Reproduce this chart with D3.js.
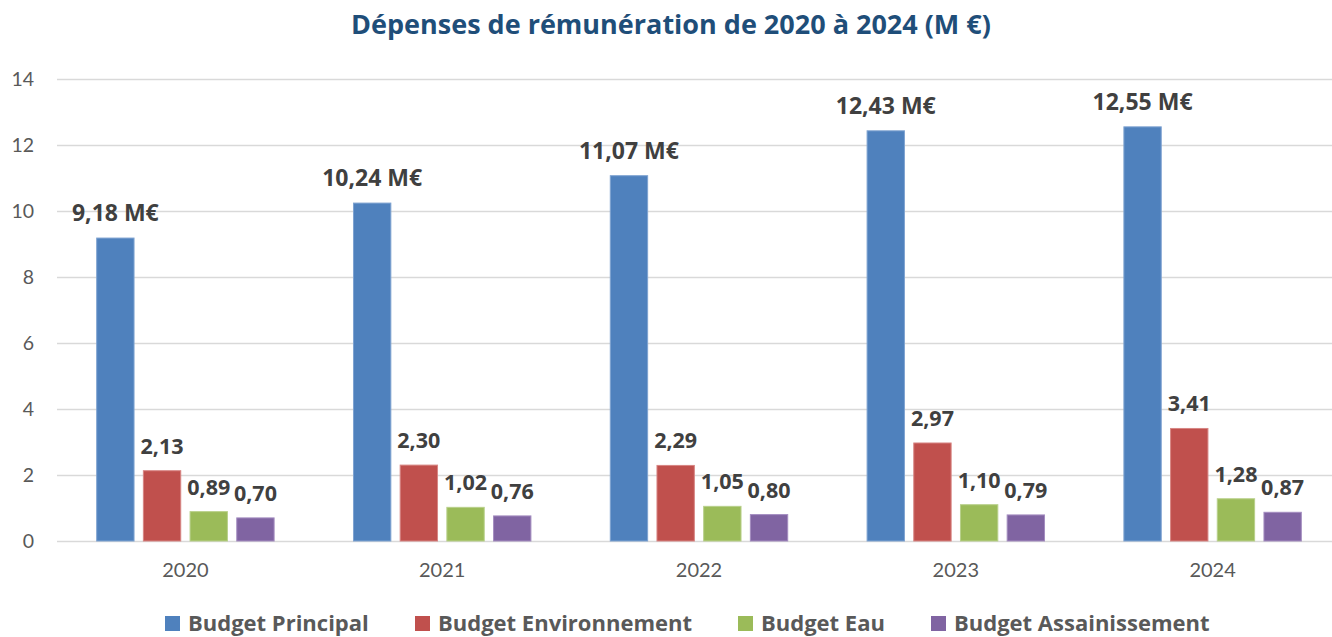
<!DOCTYPE html>
<html>
<head>
<meta charset="utf-8">
<script src="https://cdn.jsdelivr.net/npm/d3@7"></script>
<style>
  html, body { margin: 0; padding: 0; background: #fff; overflow: hidden; }
  svg { display: block; font-family: "Open Sans", Lato, sans-serif; }
</style>
</head>
<body>
<svg id="chart" width="1332" height="637"></svg>
<script>
// Rémunération par budget (M €), 2020–2024
const years = ["2020", "2021", "2022", "2023", "2024"];
const seriesNames = ["Budget Principal", "Budget Environnement", "Budget Eau", "Budget Assainissement"];
const budgetPrincipal = [9.18, 10.24, 11.07, 12.43, 12.55];
const budgetEnvironnement = [2.13, 2.30, 2.29, 2.97, 3.41];
const budgetEau = [0.89, 1.02, 1.05, 1.10, 1.28];
const budgetAssainissement = [0.70, 0.76, 0.80, 0.79, 0.87];
const yTicks = [0, 2, 4, 6, 8, 10, 12, 14];
const titleText = "Dépenses de rémunération de 2020 à 2024 (M €)";

const seriesValues = [budgetPrincipal, budgetEnvironnement, budgetEau, budgetAssainissement];
const colors = ["#4F81BD", "#C0504D", "#9BBB59", "#8064A2"];
const strokes = ["#7FA3D1", "#D78583", "#B8D08A", "#A48DC0"];

const svg = d3.select("#chart");
const W = 1332;
const plot = { left: 57, right: 1341, top: 79, bottom: 541 };

const fmt = v => v.toFixed(2).replace(".", ",");

const x0 = d3.scaleBand().domain(years).range([plot.left, plot.right]).padding(0);
const x1 = d3.scaleBand().domain(seriesNames).range([0, x0.bandwidth()])
  .paddingInner(0.2).paddingOuter(0.85);
const y = d3.scaleLinear().domain([0, 14]).range([plot.bottom, plot.top]);

// Title
svg.append("text")
  .attr("x", 671).attr("y", 34)
  .attr("text-anchor", "middle")
  .attr("font-size", 27).attr("font-weight", 700)
  .attr("fill", "#1F4E79")
  .text(titleText);

// Gridlines and y-axis labels
const yAxis = d3.axisLeft(y).tickValues(yTicks).tickSize(-(W - plot.left)).tickPadding(23).tickFormat(d => d);
const gy = svg.append("g").attr("transform", `translate(${plot.left},0)`).call(yAxis);
gy.select(".domain").remove();
gy.selectAll(".tick line").attr("stroke", "#D9D9D9").attr("stroke-width", 1.5);
gy.selectAll(".tick text").attr("fill", "#595959").attr("font-size", 19.5)
  .attr("font-family", "Lato, sans-serif");

// X-axis labels
const xAxis = d3.axisBottom(x0).tickSize(0).tickPadding(22);
const gx = svg.append("g").attr("transform", `translate(0,${plot.bottom})`).call(xAxis);
gx.select(".domain").remove();
gx.selectAll(".tick text").attr("fill", "#595959").attr("font-size", 20)
  .attr("font-family", "Lato, sans-serif");

// Bars grouped by year
const rows = years.map((yr, i) => ({
  year: yr,
  values: seriesNames.map((s, j) => ({ series: s, idx: j, value: seriesValues[j][i] }))
}));

const groups = svg.append("g").selectAll("g").data(rows).join("g")
  .attr("transform", d => `translate(${x0(d.year)},0)`);

groups.selectAll("rect").data(d => d.values).join("rect")
  .attr("x", d => x1(d.series))
  .attr("y", d => y(d.value))
  .attr("width", x1.bandwidth())
  .attr("height", d => y(0) - y(d.value))
  .attr("fill", d => colors[d.idx])
  .attr("stroke", d => strokes[d.idx])
  .attr("stroke-width", 1);

// Value labels
groups.selectAll("text.val").data(d => d.values).join("text")
  .attr("class", "val")
  .attr("x", d => x1(d.series) + x1.bandwidth() / 2)
  .attr("y", d => y(d.value) - 17)
  .attr("text-anchor", "middle")
  .attr("font-size", d => d.idx === 0 ? 23 : 21.5)
  .attr("font-weight", 700)
  .attr("fill", "#404040")
  .text(d => d.idx === 0 ? fmt(d.value) + " M€" : fmt(d.value));

// Legend
const legendX = [165, 415, 738, 931];
const legend = svg.append("g").selectAll("g").data(seriesNames).join("g")
  .attr("transform", (d, i) => `translate(${legendX[i]},616)`);
legend.append("rect").attr("width", 15).attr("height", 15).attr("fill", (d, i) => colors[i]);
legend.append("text").attr("x", 23).attr("y", 15)
  .attr("font-size", 22).attr("font-weight", 700).attr("fill", "#595959")
  .text(d => d);
</script>
</body>
</html>
